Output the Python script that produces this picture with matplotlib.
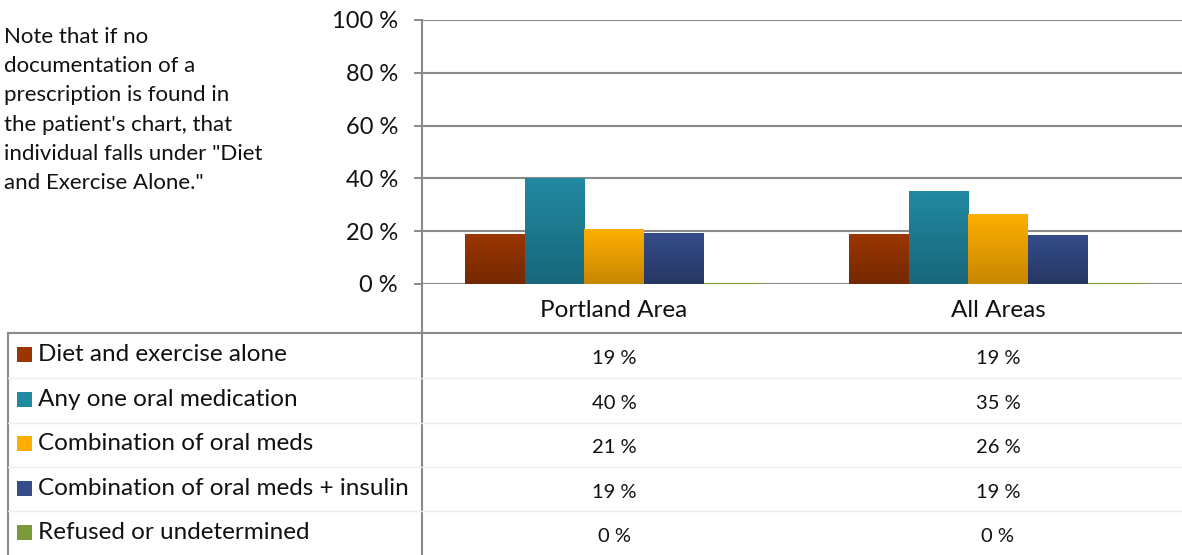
import matplotlib.pyplot as plt
import numpy as np
from matplotlib.lines import Line2D
from matplotlib.patches import Rectangle

# data
categories = ["Portland Area", "All Areas"]
series = ["Diet and exercise alone", "Any one oral medication",
          "Combination of oral meds", "Combination of oral meds + insulin",
          "Refused or undetermined"]
portland = [18.9, 40.0, 20.8, 19.3, 0.3]
all_areas = [18.9, 35.2, 26.4, 18.6, 0.3]
yticks = [0, 20, 40, 60, 80, 100]
note_lines = ["Note that if no", "documentation of a", "prescription is found in",
              "the patient's chart, that", "individual falls under \"Diet",
              "and Exercise Alone.\""]

top_colors = ["#9a3600", "#2189a1", "#fdae00", "#354d8a", "#7a9a3a"]
bot_colors = ["#742800", "#18677a", "#c88700", "#263763", "#5a7a28"]

plt.rcParams['font.family'] = ['Lato', 'DejaVu Sans']

W, H = 1182, 555
fig = plt.figure(figsize=(W / 100, H / 100), dpi=100)

def fx(px):
    return px / W

def fy(py):
    return 1 - py / H

grid_c = "#8a8a8a"
txt_c = "#111111"

# plot area (runs past the right edge like the cropped original)
ax = fig.add_axes([fx(422), fy(284), fx(768), 264 / H])
for s in ax.spines.values():
    s.set_visible(False)
ax.set_yticks(yticks, [f"{v} %" for v in yticks])
ax.tick_params(axis='y', length=5.8, pad=11.5, color=grid_c, width=1.4,
               labelsize=17, labelcolor=txt_c)
ax.set_xticks([])
for v in yticks:
    ax.axhline(v, color=grid_c, lw=1.5, zorder=1)

bw = 0.155
x = np.arange(len(categories))
data = np.array([portland, all_areas])
for i, name in enumerate(series):
    bars = ax.bar(x + (i - 2) * bw, data[:, i], width=bw, color=top_colors[i],
                  zorder=3, label=name)
    cmap = plt.matplotlib.colors.LinearSegmentedColormap.from_list(
        "g%d" % i, [bot_colors[i], top_colors[i]])
    for b in bars:
        x0, w, h = b.get_x(), b.get_width(), b.get_height()
        if h < 1:
            continue
        im = ax.imshow(np.linspace(0, 1, 64).reshape(-1, 1), cmap=cmap,
                       extent=[x0, x0 + w, 0, h], origin='lower',
                       aspect='auto', zorder=4)
        im.set_clip_path(b)
ax.set_xlim(-0.5, 1.5)
ax.set_ylim(0, 100)

for xi, c in zip(x, categories):
    px = ax.transData.transform((xi, 0))[0]
    fig.text(px / W, fy(317), c, ha='center', va='baseline', fontsize=17.5,
             color=txt_c)

# vertical axis line running down through the table
fig.add_artist(Line2D([fx(422), fx(422)], [fy(20), fy(555)],
                      color=grid_c, lw=1.5))

# data table under the chart
label_base = [361, 406, 450, 495, 539]
value_base = [364, 409, 453, 498, 542]
fig.add_artist(Line2D([fx(8), 1], [fy(333), fy(333)], color=grid_c, lw=1.5))
fig.add_artist(Line2D([fx(8), fx(8)], [fy(333), fy(555)], color=grid_c, lw=1.5))
for ly in [378, 423, 467, 511]:
    fig.add_artist(Line2D([fx(8), 1], [fy(ly), fy(ly)], color="#ededed", lw=1))

for i, name in enumerate(series):
    by = label_base[i]
    fig.add_artist(Rectangle((fx(17), fy(by + 1)), fx(15), 15 / H,
                             facecolor=top_colors[i], edgecolor='none'))
    fig.text(fx(38), fy(by), name, ha='left', va='baseline', fontsize=17.5,
             color=txt_c)
    for xi, vals in zip(x, [portland, all_areas]):
        px = ax.transData.transform((xi, 0))[0]
        fig.text(px / W, fy(value_base[i]), f"{round(vals[i])} %", ha='center',
                 va='baseline', fontsize=14.5, color=txt_c)

# side note
for k, line in enumerate(note_lines):
    fig.text(fx(4), fy(43 + 29.2 * k), line, ha='left', va='baseline',
             fontsize=16, color=txt_c)

fig.savefig("out.png", dpi=100)
